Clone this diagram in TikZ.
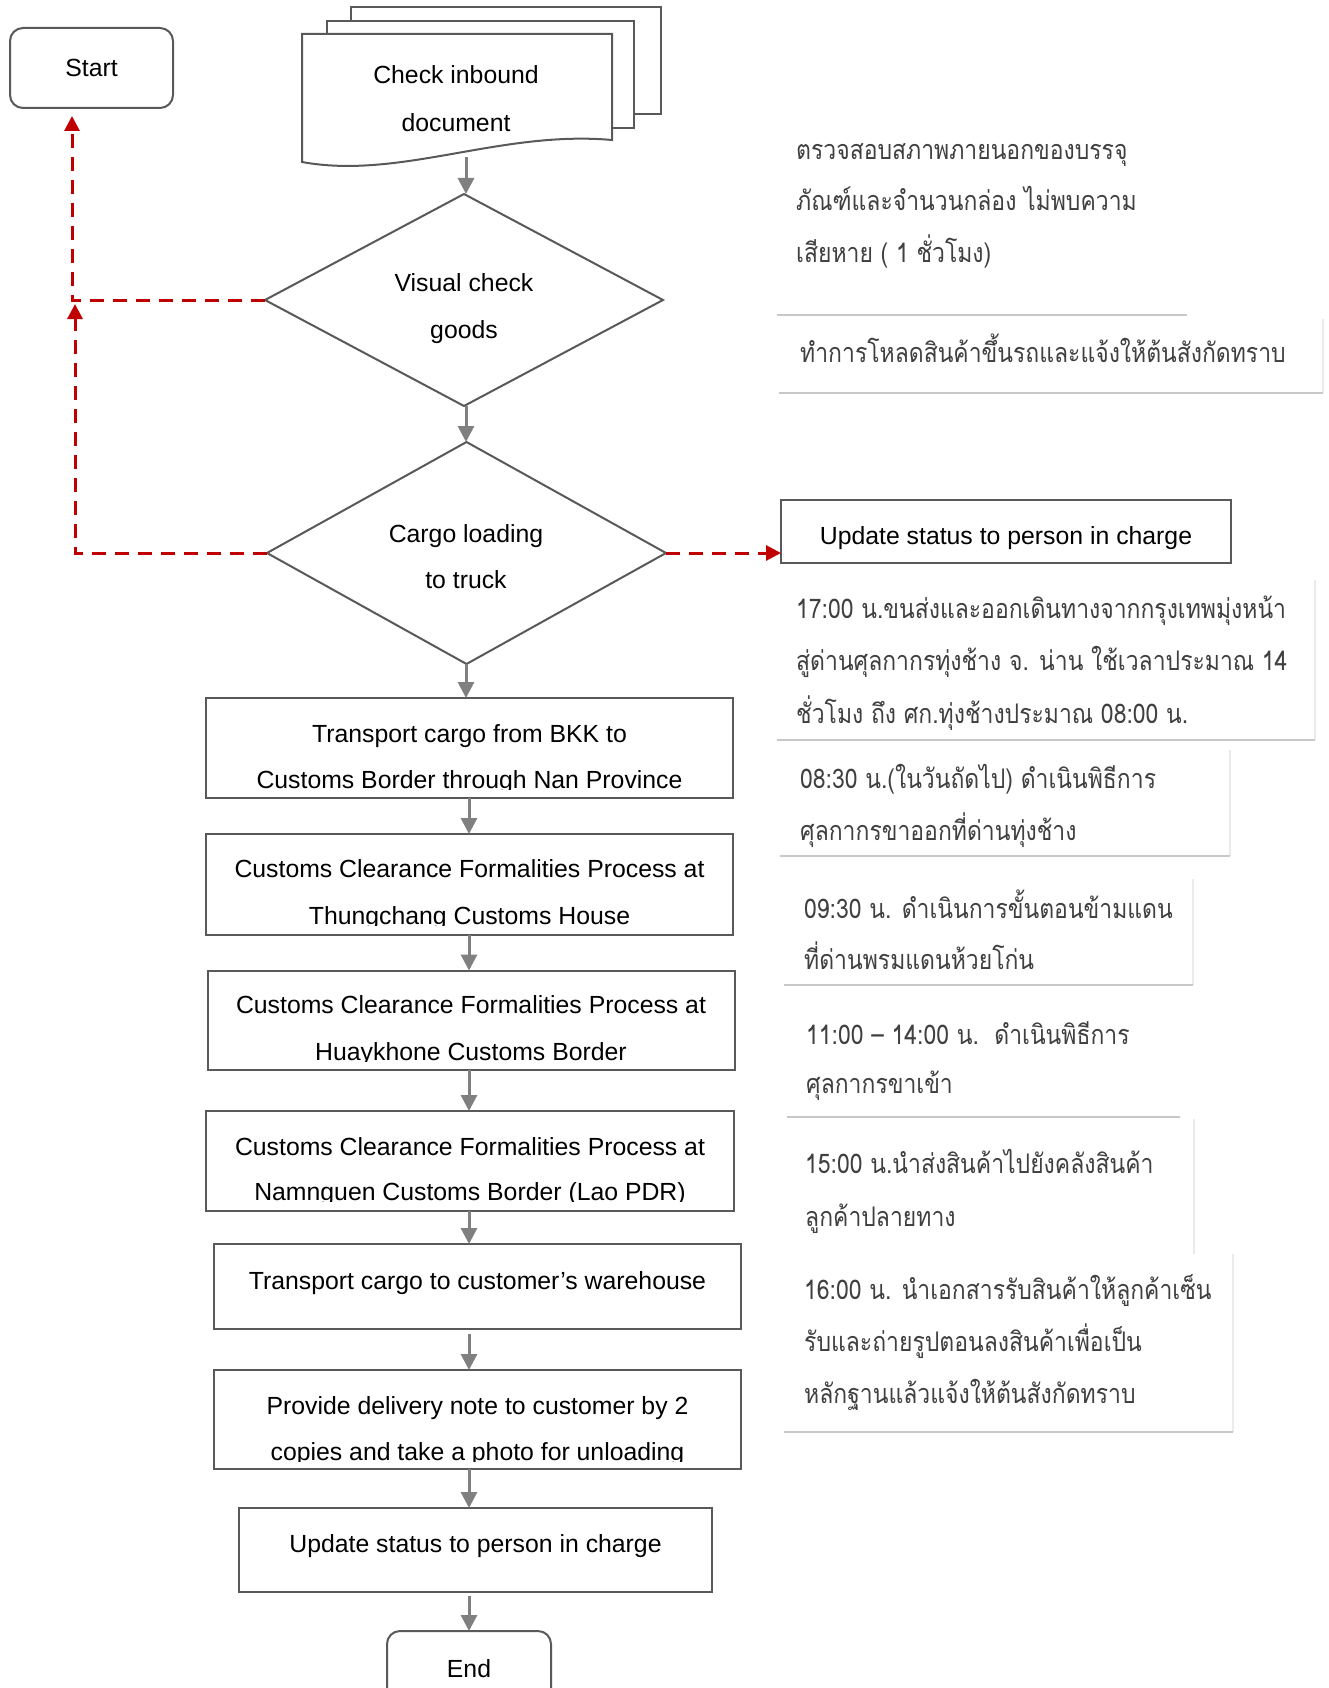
\documentclass[tikz,border=0pt]{standalone}
\usepackage{fontspec}
\setmainfont{Liberation Sans}
\newfontfamily\thaifont[Script=Thai,FakeStretch=0.85]{Loma}
\usetikzlibrary{arrows.meta,shapes.geometric}
\definecolor{bord}{HTML}{595959}
\definecolor{arrg}{HTML}{808080}
\definecolor{redd}{HTML}{C00000}
\definecolor{thtxt}{HTML}{404040}
\definecolor{sepl}{HTML}{C8C8C8}
\definecolor{sepf}{HTML}{EBEBEB}
\begin{document}
\begin{tikzpicture}[x=1pt,y=-1pt,
  proc/.style={draw=bord,line width=2pt,fill=white,inner sep=0pt,outer sep=0pt},
  term/.style={proc,rounded corners=13pt},
  dec/.style={draw=bord,line width=2pt,fill=white,diamond,inner sep=0pt,outer sep=0pt},
  etxt/.style={font=\fontsize{24.8}{30}\selectfont,inner sep=0pt,anchor=base,text=black},
  ttxt/.style={font=\thaifont\fontsize{27}{32}\selectfont,inner sep=0pt,anchor=base west,text=thtxt},
  flow/.style={draw=arrg,line width=3pt,-{Triangle[length=16pt,width=16pt]}},
  back/.style={draw=redd,line width=3pt,dash pattern=on 14pt off 9pt,-{Triangle[length=15pt,width=15pt]}},
  sep/.style={draw=sepl,line width=2pt},
  sepfaint/.style={draw=sepf,line width=2pt}]
\useasboundingbox (0,0) rectangle (1329,1688);
\clip (0,0) rectangle (1329,1688);
\fill[white] (0,0) rectangle (1329,1688);

% ---------- left flow ----------
\node[term,minimum width=163pt,minimum height=80pt] (start) at (91.5,68) {};
\node[etxt] (tstart) at (91.5,77) {Start};

% document stack
\draw[proc] (351,7) rectangle (661,114);
\draw[proc] (327,21) rectangle (634,128);
\draw[proc] (302,34) -- (612,34) -- (612,140) .. controls (500,130) and (400,180) .. (302,162) -- cycle;
\node[etxt] (tdoc1) at (456,84) {Check inbound};
\node[etxt] (tdoc2) at (456,132) {document};
\coordinate (docb) at (466,157);

\node[dec,minimum width=398pt,minimum height=212pt] (d1) at (464,300) {};
\node[etxt] (td1a) at (464,291) {Visual check};
\node[etxt] (td1b) at (464,338) {goods};

\node[dec,minimum width=399pt,minimum height=222pt] (d2) at (466.5,553) {};
\node[etxt] (td2a) at (466,542) {Cargo loading};
\node[etxt] (td2b) at (466,588) {to truck};

\node[proc,minimum width=527pt,minimum height=100pt] (b1) at (469.5,748) {};
\node[proc,minimum width=527pt,minimum height=101pt] (b2) at (469.5,884.5) {};
\node[proc,minimum width=527pt,minimum height=99pt] (b3) at (471.4,1020) {};
\node[proc,minimum width=528pt,minimum height=100pt] (b4) at (470,1161) {};
\node[proc,minimum width=527pt,minimum height=85pt] (b5) at (477.5,1286.5) {};
\node[proc,minimum width=527pt,minimum height=99pt] (b6) at (477.5,1419.5) {};
\node[proc,minimum width=473pt,minimum height=84pt] (b7) at (475.5,1550) {};
\node[term,minimum width=164pt,minimum height=80pt] (end) at (469,1671) {};

\node[etxt] (tb1a) at (469.5,742) {Transport cargo from BKK to};
\begin{scope}\clip (206,698) rectangle (733,789);
\node[etxt] (tb1b) at (469.5,788) {Customs Border through Nan Province};
\end{scope}
\node[etxt] (tb2a) at (469.5,877) {Customs Clearance Formalities Process at};
\begin{scope}\clip (206,834) rectangle (733,925);
\node[etxt] (tb2b) at (469.5,924) {Thungchang Customs House};
\end{scope}
\node[etxt] (tb3a) at (471,1013) {Customs Clearance Formalities Process at};
\begin{scope}\clip (208,971) rectangle (735,1061);
\node[etxt] (tb3b) at (471,1060) {Huaykhone Customs Border};
\end{scope}
\node[etxt] (tb4a) at (470,1155) {Customs Clearance Formalities Process at};
\begin{scope}\clip (206,1111) rectangle (734,1201);
\node[etxt] (tb4b) at (470,1200) {Namnguen Customs Border (Lao PDR)};
\end{scope}
\node[etxt] (tb5) at (477.5,1289) {Transport cargo to customer’s warehouse};
\node[etxt] (tb6a) at (477.5,1414) {Provide delivery note to customer by 2};
\begin{scope}\clip (214,1370) rectangle (741,1461);
\node[etxt] (tb6b) at (477.5,1460) {copies and take a photo for unloading};
\end{scope}
\node[etxt] (tb7) at (475.5,1552) {Update status to person in charge};
\node[etxt] (tend) at (469,1677) {End};

% ---------- right column ----------
\node[proc,minimum width=450pt,minimum height=63pt] (upd) at (1006,531.5) {};
\node[etxt] (tupd) at (1006,544) {Update status to person in charge};

\draw[sep] (777,315) -- (1187,315);
\draw[sepfaint] (1323,319) -- (1323,393);
\draw[sep] (779,393) -- (1323,393);
\draw[sepfaint] (1315,580) -- (1315,740);
\draw[sep] (777,740) -- (1315,740);
\draw[sepfaint] (1230,750) -- (1230,856);
\draw[sep] (780,856) -- (1230,856);
\draw[sepfaint] (1193,879) -- (1193,985);
\draw[sep] (784,985) -- (1193,985);
\draw[sep] (787,1117) -- (1180,1117);
\draw[sepfaint] (1194,1119) -- (1194,1254);
\draw[sepfaint] (1233,1254) -- (1233,1432);
\draw[sep] (784,1432) -- (1233,1432);

\node[ttxt] (t1a) at (796,160) {ตรวจสอบสภาพภายนอกของบรรจุ};
\node[ttxt] (t1b) at (796,211) {ภัณฑ์และจำนวนกล่อง ไม่พบความ};
\node[ttxt] (t1c) at (796,262) {เสียหาย ( 1 ชั่วโมง)};
\node[ttxt] (t2a) at (800,362) {ทำการโหลดสินค้าขึ้นรถและแจ้งให้ต้นสังกัดทราบ};
\node[ttxt] (t3a) at (796,618) {17:00 น.ขนส่งและออกเดินทางจากกรุงเทพมุ่งหน้า};
\node[ttxt] (t3b) at (796,670) {สู่ด่านศุลกากรทุ่งช้าง จ. น่าน ใช้เวลาประมาณ 14};
\node[ttxt] (t3c) at (796,723) {ชั่วโมง ถึง ศก.ทุ่งช้างประมาณ 08:00 น.};
\node[ttxt] (t4a) at (800,788) {08:30 น.(ในวันถัดไป) ดำเนินพิธีการ};
\node[ttxt] (t4b) at (800,840) {ศุลกากรขาออกที่ด่านทุ่งช้าง};
\node[ttxt] (t5a) at (804,918) {09:30 น. ดำเนินการขั้นตอนข้ามแดน};
\node[ttxt] (t5b) at (804,969) {ที่ด่านพรมแดนห้วยโก่น};
\node[ttxt] (t6a) at (806,1044) {11:00 – 14:00 น.\ \ ดำเนินพิธีการ};
\node[ttxt] (t6b) at (806,1093) {ศุลกากรขาเข้า};
\node[ttxt] (t7a) at (805,1173) {15:00 น.นำส่งสินค้าไปยังคลังสินค้า};
\node[ttxt] (t7b) at (805,1226) {ลูกค้าปลายทาง};
\node[ttxt] (t8a) at (804,1299) {16:00 น. นำเอกสารรับสินค้าให้ลูกค้าเซ็น};
\node[ttxt] (t8b) at (804,1351) {รับและถ่ายรูปตอนลงสินค้าเพื่อเป็น};
\node[ttxt] (t8c) at (804,1403) {หลักฐานแล้วแจ้งให้ต้นสังกัดทราบ};

% ---------- connectors ----------
\coordinate (sA) at (466,0);
\coordinate (sB) at (469,0);
\draw[flow] (docb) -- (sA |- d1.north);
\draw[flow] (sA |- d1.south) -- (sA |- d2.north);
\draw[flow] (sA |- d2.south) -- (sA |- b1.north);
\draw[flow] (sB |- b1.south) -- (sB |- b2.north);
\draw[flow] (sB |- b2.south) -- (sB |- b3.north);
\draw[flow] (sB |- b3.south) -- (sB |- b4.north);
\draw[flow] (sB |- b4.south) -- (sB |- b5.north);
\draw[flow] ([yshift=-5pt]sB |- b5.south) -- (sB |- b6.north);
\draw[flow] (sB |- b6.south) -- (sB |- b7.north);
\draw[flow] ([yshift=-4pt]sB |- b7.south) -- (sB |- end.north);

\coordinate (rA) at (72,0);
\coordinate (rB) at (75,0);
\draw[back] (d1.west) -- (rA |- d1.west) -- ([yshift=-8pt]rA |- start.south);
\draw[back] (d2.west) -- (rB |- d2.west) -- ([yshift=-4pt]rB |- d1.west);
\draw[back] (d2.east) -- (upd.west |- d2.east);
\end{tikzpicture}
\end{document}
